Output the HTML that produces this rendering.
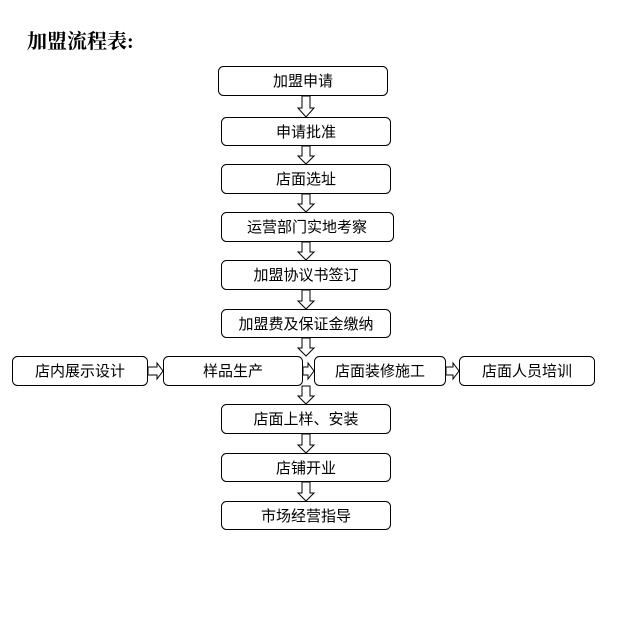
<!DOCTYPE html>
<html><head><meta charset="utf-8"><style>
body{margin:0;background:#fff;width:640px;height:622px;overflow:hidden}
svg{display:block}
text{font-family:"Liberation Sans","Noto Sans CJK SC",sans-serif;font-size:15px;fill:#000}
</style></head><body>
<svg width="640" height="622" viewBox="0 0 640 622" xmlns="http://www.w3.org/2000/svg">
<text x="27" y="48" style="font-family:'Liberation Serif','Noto Serif CJK SC',serif;font-size:20px;font-weight:bold">加盟流程表:</text>
<g fill="#fff" stroke="#000" stroke-width="1">
<rect x="218.5" y="66.5" width="169" height="29" rx="5"/>
<rect x="221.5" y="117.5" width="169" height="28" rx="5"/>
<rect x="221.5" y="164.5" width="169" height="29" rx="5"/>
<rect x="221.5" y="212.5" width="172" height="29" rx="5"/>
<rect x="221.5" y="260.5" width="169" height="29" rx="5"/>
<rect x="221.5" y="309.5" width="169" height="28" rx="5"/>
<rect x="12.5" y="356.5" width="135" height="29" rx="5"/>
<rect x="163.5" y="356.5" width="139" height="29" rx="5"/>
<rect x="314.5" y="356.5" width="131" height="29" rx="5"/>
<rect x="459.5" y="356.5" width="135" height="29" rx="5"/>
<rect x="221.5" y="404.5" width="169" height="29" rx="5"/>
<rect x="221.5" y="453.5" width="169" height="28" rx="5"/>
<rect x="221.5" y="501.5" width="169" height="28" rx="5"/>
</g>
<g fill="#fff" stroke="#000" stroke-width="1">
<polygon points="302,96 310,96 310,108 314,108 306,117 298,108 302,108"/>
<polygon points="302,146 310,146 310,156 314,156 306,164 298,156 302,156"/>
<polygon points="302,194 310,194 310,204 314,204 306,212 298,204 302,204"/>
<polygon points="302,242 310,242 310,252 314,252 306,260 298,252 302,252"/>
<polygon points="302,290 310,290 310,301 314,301 306,309 298,301 302,301"/>
<polygon points="302,338 310,338 310,348 314,348 306,356 298,348 302,348"/>
<polygon points="302,386 310,386 310,396 314,396 306,404 298,396 302,396"/>
<polygon points="302,434 310,434 310,445 314,445 306,453 298,445 302,445"/>
<polygon points="302,482 310,482 310,493 314,493 306,501 298,493 302,493"/>
<polygon points="148,367 157,367 157,363 163,371 157,379 157,375 148,375"/>
<polygon points="303,367 308,367 308,363 314,371 308,379 308,375 303,375"/>
<polygon points="446,367 453,367 453,363 459,371 453,379 453,375 446,375"/>
</g>
<g text-anchor="middle">
<text x="303" y="86">加盟申请</text>
<text x="306" y="137">申请批准</text>
<text x="306" y="184">店面选址</text>
<text x="307" y="232">运营部门实地考察</text>
<text x="306" y="280">加盟协议书签订</text>
<text x="306" y="329">加盟费及保证金缴纳</text>
<text x="80" y="376">店内展示设计</text>
<text x="233" y="376">样品生产</text>
<text x="380" y="376">店面装修施工</text>
<text x="527" y="376">店面人员培训</text>
<text x="306" y="424">店面上样、安装</text>
<text x="306" y="473">店铺开业</text>
<text x="306" y="521">市场经营指导</text>
</g>
</svg>
</body></html>
